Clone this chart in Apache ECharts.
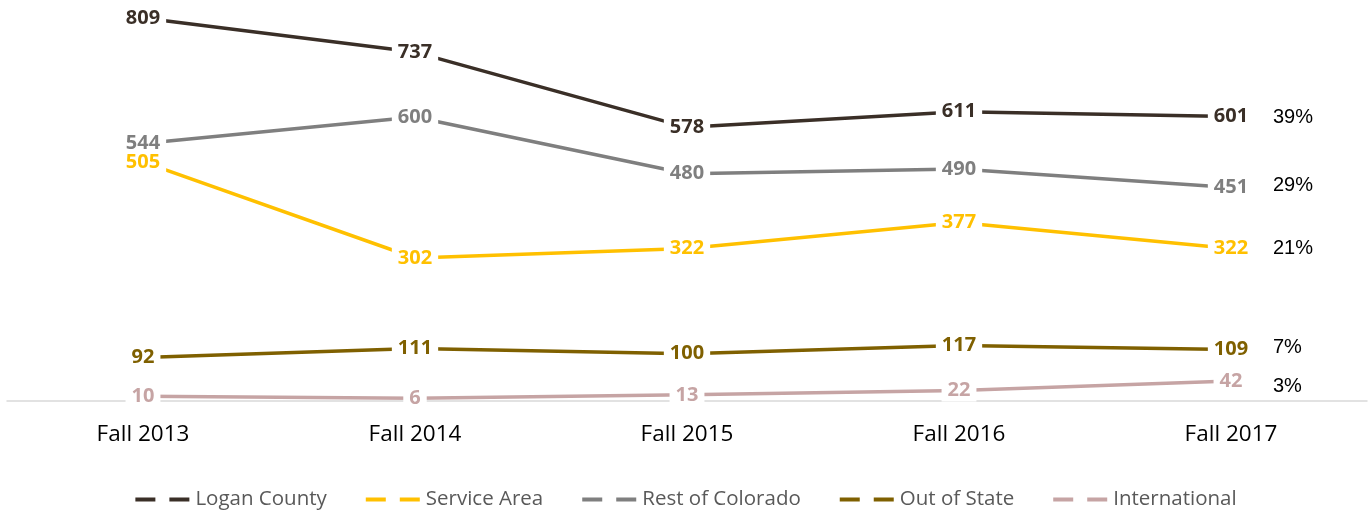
<!DOCTYPE html>
<html>
<head>
<meta charset="utf-8">
<script src="https://cdn.jsdelivr.net/npm/echarts@6/dist/echarts.min.js"></script>
<style>html,body{margin:0;padding:0;background:#fff}#c{width:1372px;height:511px}</style>
</head>
<body>
<div id="c"></div>
<script>
const categories = ['Fall 2013', 'Fall 2014', 'Fall 2015', 'Fall 2016', 'Fall 2017'];
const seriesNames = ['Logan County', 'Service Area', 'Rest of Colorado', 'Out of State', 'International'];
const loganCounty = [809, 737, 578, 611, 601];
const serviceArea = [505, 302, 322, 377, 322];
const restOfColorado = [544, 600, 480, 490, 451];
const outOfState = [92, 111, 100, 117, 109];
const international = [10, 6, 13, 22, 42];
const sharePct = ['39%', '21%', '29%', '7%', '3%'];
const colors = ['#3A2F27', '#FFC000', '#7F7F7F', '#7F6000', '#C6A4A4'];

const values = [loganCounty, serviceArea, restOfColorado, outOfState, international];
const pctOffsets = [[0, 1], [0, 0], [0, -2], [0, -2], [0, 5]];

const chart = echarts.init(document.getElementById('c'));
chart.setOption({
  animation: false,
  backgroundColor: '#fff',
  grid: { left: 7, right: 5, top: 0, bottom: 110 },
  xAxis: {
    type: 'category',
    data: categories,
    boundaryGap: true,
    axisLine: { lineStyle: { color: '#D9D9D9', width: 1.5 } },
    axisTick: { show: false },
    axisLabel: { color: '#000', fontFamily: 'Open Sans', fontSize: 22.5, margin: 22 }
  },
  yAxis: { type: 'value', min: 0, max: 847, show: false, splitLine: { show: false } },
  legend: {
    top: 484,
    left: 'center',
    itemWidth: 54,
    itemHeight: 4,
    itemGap: 39,
    icon: 'path://M0,0H20V4H0Z M34,0H54V4H34Z',
    textStyle: { color: '#595959', fontFamily: 'Open Sans', fontSize: 20.5, padding: [0, 0, 0, 1] },
    data: seriesNames
  },
  series: seriesNames.map((name, i) => ({
    name: name,
    type: 'line',
    data: values[i],
    symbol: 'circle',
    symbolSize: 0,
    showSymbol: true,
    itemStyle: { color: colors[i] },
    lineStyle: { color: colors[i], width: 3.5 },
    label: {
      show: true,
      position: 'inside',
      color: colors[i],
      fontFamily: 'Open Sans',
      fontWeight: 'bold',
      fontSize: 20,
      backgroundColor: '#fff',
      padding: [0, 6],
      lineHeight: 22
    },
    endLabel: {
      show: true,
      formatter: () => sharePct[i],
      distance: 42,
      offset: pctOffsets[i],
      color: '#000',
      fontFamily: 'Liberation Sans',
      fontWeight: 'normal',
      fontSize: 20
    },
    z: 2 + (4 - i)
  }))
});
</script>
</body>
</html>
